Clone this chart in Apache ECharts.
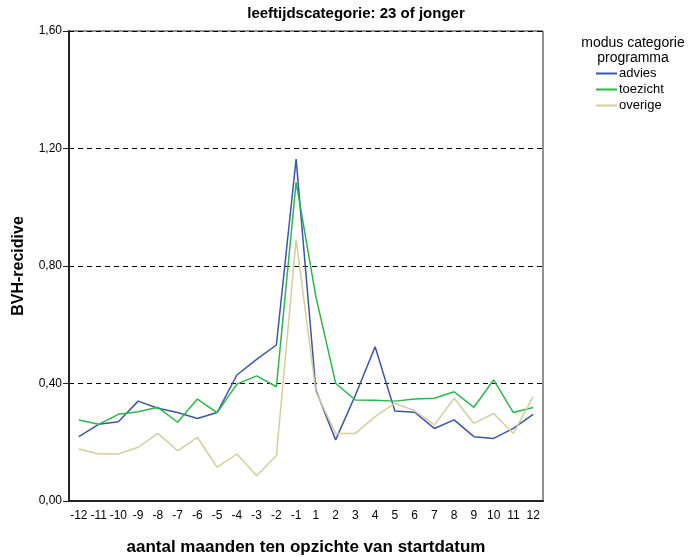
<!DOCTYPE html>
<html>
<head>
<meta charset="utf-8">
<script src="https://cdn.jsdelivr.net/npm/echarts@6/dist/echarts.min.js"></script>
<style>html,body{margin:0;padding:0;background:#fff}#c{width:689px;height:557px}</style>
</head>
<body>
<div id="c"></div>
<script>
const categories = ['-12','-11','-10','-9','-8','-7','-6','-5','-4','-3','-2','-1','1','2','3','4','5','6','7','8','9','10','11','12'];
const advies = [0.219,0.261,0.270,0.340,0.316,0.301,0.281,0.301,0.429,0.482,0.531,1.164,0.378,0.208,0.360,0.525,0.306,0.302,0.247,0.276,0.219,0.213,0.247,0.295];
const toezicht = [0.276,0.261,0.295,0.304,0.319,0.268,0.347,0.301,0.398,0.426,0.389,1.085,0.696,0.401,0.344,0.343,0.340,0.347,0.350,0.372,0.319,0.412,0.301,0.318];
const overige = [0.177,0.160,0.160,0.183,0.230,0.171,0.217,0.115,0.160,0.086,0.154,0.889,0.372,0.230,0.230,0.287,0.333,0.307,0.259,0.350,0.264,0.298,0.230,0.355];
const yTicks = [0, 0.4, 0.8, 1.2, 1.6];

const FONT = 'Liberation Sans, Arial, sans-serif';
const chart = echarts.init(document.getElementById('c'), null, {renderer: 'canvas'});
const mk = (name, data, color) => ({
  name, type: 'line', data, symbol: 'none', smooth: false,
  lineStyle: {color, width: 1.5}, itemStyle: {color}, z: 3
});
chart.setOption({
  animation: false,
  backgroundColor: '#fff',
  graphic: [
    {type: 'text', x: 356, y: 6, style: {text: 'leeftijdscategorie: 23 of jonger', textAlign: 'center',
      font: 'bold 15px ' + FONT, fill: '#000'}},
    {type: 'text', x: 633, y: 36, style: {text: 'modus categorie\nprogramma', textAlign: 'center',
      font: '14px ' + FONT, fill: '#000', lineHeight: 15}}
  ],
  legend: {
    orient: 'vertical', left: 596, top: 67, itemWidth: 21, itemHeight: 2, itemGap: 3, padding: 0,
    icon: 'rect', data: ['advies','toezicht','overige'],
    textStyle: {fontFamily: FONT, fontSize: 13, color: '#000', padding: [0,0,0,-3]}
  },
  grid: {left: 69, right: 146, top: 31, bottom: 56, outerBoundsMode: 'none', containLabel: false,
    show: true, borderColor: '#222', borderWidth: 1, backgroundColor: 'transparent'},
  xAxis: {
    type: 'category', data: categories, boundaryGap: true,
    name: 'aantal maanden ten opzichte van startdatum', nameLocation: 'middle', nameGap: 38,
    nameTextStyle: {fontFamily: FONT, fontSize: 17, fontWeight: 'bold', color: '#000'},
    axisLine: {lineStyle: {color: '#222', width: 2}},
    axisTick: {alignWithLabel: true, length: 6, lineStyle: {color: '#222', width: 1}},
    axisLabel: {interval: 0, fontFamily: FONT, fontSize: 12, color: '#000', margin: 9},
    splitLine: {show: false}
  },
  yAxis: {
    type: 'value', min: 0, max: 1.6, interval: 0.4,
    name: 'BVH-recidive', nameLocation: 'middle', nameGap: 42,
    nameTextStyle: {fontFamily: FONT, fontSize: 16, fontWeight: 'bold', color: '#000'},
    axisLine: {show: true, lineStyle: {color: '#222', width: 2}},
    axisTick: {show: true, length: 6, lineStyle: {color: '#222', width: 1}},
    axisLabel: {fontFamily: FONT, fontSize: 12, color: '#000', margin: 7,
      formatter: v => yTicks.includes(+v.toFixed(2)) ? v.toFixed(2).replace('.', ',') : ''},
    splitLine: {show: true, lineStyle: {color: '#000', width: 1, type: [5, 4]}}
  },
  series: [
    mk('advies', advies, '#3b55a9'),
    mk('toezicht', toezicht, '#2cb64a'),
    mk('overige', overige, '#d5cd9e')
  ]
});
</script>
</body>
</html>
